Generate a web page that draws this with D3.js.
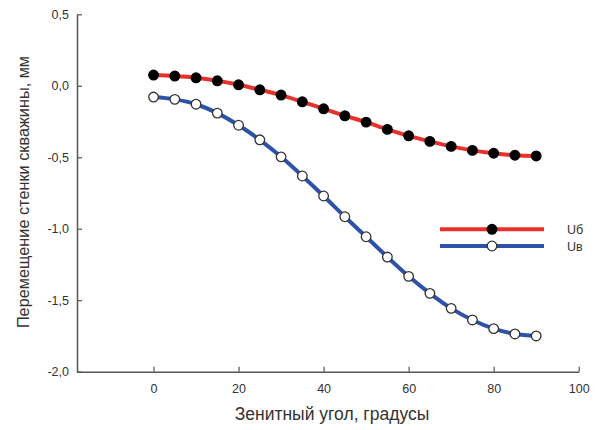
<!DOCTYPE html>
<html>
<head>
<meta charset="utf-8">
<script src="https://cdn.jsdelivr.net/npm/d3@7"></script>
<style>
  html, body { margin: 0; padding: 0; background: #fff; }
  svg { display: block; font-family: "Liberation Sans", Arial, sans-serif; }
</style>
</head>
<body>
<svg id="chart" width="599" height="430"></svg>
<script>
// Zenith angle, degrees
const angles = [0, 5, 10, 15, 20, 25, 30, 35, 40, 45, 50, 55, 60, 65, 70, 75, 80, 85, 90];
// Wall displacement, mm
const uB = [0.075, 0.068, 0.056, 0.035, 0.007, -0.028, -0.065, -0.112, -0.161, -0.210,
            -0.254, -0.305, -0.350, -0.389, -0.424, -0.452, -0.472, -0.486, -0.491];
const uV = [-0.079, -0.095, -0.129, -0.191, -0.276, -0.378, -0.497, -0.631, -0.771, -0.916,
            -1.056, -1.198, -1.333, -1.452, -1.557, -1.638, -1.699, -1.736, -1.750];
const xTicks = [0, 20, 40, 60, 80, 100];
const yTicks = [0.5, 0.0, -0.5, -1.0, -1.5, -2.0];
const seriesNames = ["Uб", "Uв"];

const svg = d3.select("#chart");
const x = d3.scaleLinear().domain([-18, 100]).range([77, 578.7]);
const y = d3.scaleLinear().domain([-2, 0.5]).range([371.7, 14.3]);

const axisColor = "#555";
const textColor = "#333";
const fmt = d => d3.format(".1f")(d).replace(".", ",").replace("−", "-");

// X axis
const gx = svg.append("g").attr("transform", `translate(0,${y(-2)})`)
  .call(d3.axisBottom(x).tickValues(xTicks).tickSizeInner(-5).tickSizeOuter(0).tickPadding(12).tickFormat(d3.format("d")));
gx.select(".domain").attr("stroke", axisColor).attr("stroke-width", 1.5);
gx.selectAll(".tick line").attr("stroke", axisColor).attr("stroke-width", 1.2);
gx.selectAll(".tick text").attr("fill", textColor).attr("font-size", 12.5);

// Y axis
const gy = svg.append("g").attr("transform", `translate(${x(-18)},0)`)
  .call(d3.axisLeft(y).tickValues(yTicks).tickSizeInner(-5).tickSizeOuter(0).tickPadding(8).tickFormat(fmt));
gy.select(".domain").attr("stroke", axisColor).attr("stroke-width", 1.5);
gy.selectAll(".tick line").attr("stroke", axisColor).attr("stroke-width", 1.2);
gy.selectAll(".tick text").attr("fill", textColor).attr("font-size", 12.5);

// Axis titles
svg.append("text").attr("x", 332).attr("y", 420).attr("text-anchor", "middle")
  .attr("fill", textColor).attr("font-size", 17.5).text("Зенитный угол, градусы");
svg.append("text").attr("transform", "translate(29,192) rotate(-90)").attr("text-anchor", "middle")
  .attr("fill", textColor).attr("font-size", 16.3).text("Перемещение стенки скважины, мм");

const series = [
  { name: seriesNames[0], values: uB, color: "#e8312a", fill: "#000", stroke: "#000" },
  { name: seriesNames[1], values: uV, color: "#2d52a8", fill: "#fff", stroke: "#333" }
];

const line = d3.line().x(d => x(d[0])).y(d => y(d[1])).curve(d3.curveMonotoneX);

series.forEach(s => {
  const pts = angles.map((a, i) => [a, s.values[i]]);
  svg.append("path").datum(pts).attr("d", line)
    .attr("fill", "none").attr("stroke", s.color).attr("stroke-width", 4);
  svg.append("g").selectAll("circle").data(pts).join("circle")
    .attr("cx", d => x(d[0])).attr("cy", d => y(d[1])).attr("r", 4.8)
    .attr("fill", s.fill).attr("stroke", s.stroke).attr("stroke-width", 1.3);
});

// Legend
const legend = svg.append("g");
series.forEach((s, i) => {
  const ly = 229.3 + i * 16.7;
  legend.append("line").attr("x1", 440).attr("x2", 544).attr("y1", ly).attr("y2", ly)
    .attr("stroke", s.color).attr("stroke-width", 4);
  legend.append("circle").attr("cx", 492).attr("cy", ly).attr("r", 4.8)
    .attr("fill", s.fill).attr("stroke", s.stroke).attr("stroke-width", 1.3);
  legend.append("text").attr("x", 567).attr("y", ly + 4.5)
    .attr("fill", textColor).attr("font-size", 12.5).text(s.name);
});
</script>
</body>
</html>
